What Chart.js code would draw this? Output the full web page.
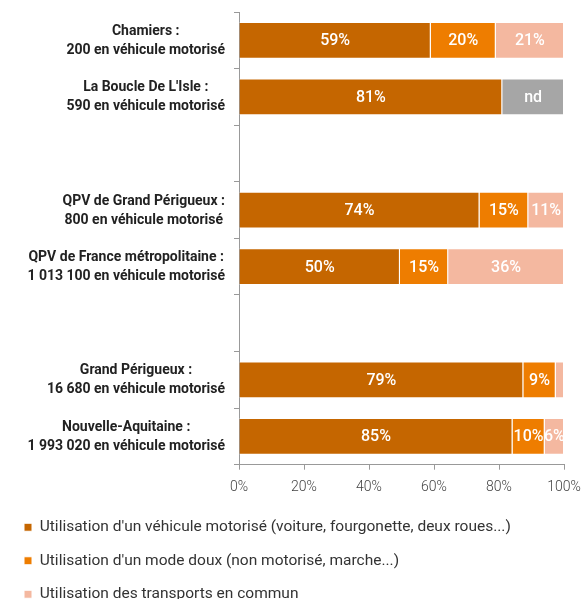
<!DOCTYPE html>
<html>
<head>
<meta charset="utf-8">
<script src="https://cdn.jsdelivr.net/npm/chart.js@4"></script>
<style>
  html, body { margin: 0; padding: 0; background: #fff; }
  #wrap { width: 581px; height: 599px; position: relative; }
</style>
</head>
<body>
<div id="wrap"><canvas id="myChart"></canvas></div>
<script>
'use strict';

const categories = [
  ['Chamiers :', '200 en véhicule motorisé'],
  ['La Boucle De L\'Isle :', '590 en véhicule motorisé'],
  '',
  ['QPV de Grand Périgueux :', '800 en véhicule motorisé'],
  ['QPV de France métropolitaine :', '1 013 100 en véhicule motorisé'],
  '',
  ['Grand Périgueux :', '16 680 en véhicule motorisé'],
  ['Nouvelle-Aquitaine :', '1 993 020 en véhicule motorisé']
];

const seriesNames = [
  'Utilisation d\'un véhicule motorisé (voiture, fourgonette, deux roues...)',
  'Utilisation d\'un mode doux (non motorisé, marche...)',
  'Utilisation des transports en commun',
  'nd'
];

const vehicule = [59, 81, null, 74, 50, null, 79, 85];
const modeDoux = [20, null, null, 15, 15, null, 9, 10];
const transports = [21, null, null, 11, 36, null, 2.3, 6];
const nonDispo = [null, 19, null, null, null, null, null, null];

const xTicks = [0, 20, 40, 60, 80, 100];

const colors = ['#C56600', '#EE7D00', '#F4B8A0', '#A6A6A6'];
const FONT = 'Roboto';

const raw = [vehicule, modeDoux, transports, nonDispo];

// bars are drawn as share of each row total (100% stacked)
function rowTotal(i) {
  let t = 0;
  raw.forEach(s => { if (s[i] != null) t += s[i]; });
  return t;
}

const datasets = raw.map((s, k) => ({
  label: seriesNames[k],
  data: s.map((v, i) => v == null ? null : v / rowTotal(i) * 100),
  rawValues: s,
  backgroundColor: colors[k],
  borderColor: '#fff',
  borderWidth: 1,
  borderSkipped: 'start',
  categoryPercentage: 0.65,
  barPercentage: 1
}));

// white value labels inside segments
const segmentLabels = {
  id: 'segmentLabels',
  afterDatasetsDraw(chart) {
    const ctx = chart.ctx;
    ctx.save();
    ctx.fillStyle = '#fff';
    ctx.font = '500 16px ' + FONT;
    ctx.textAlign = 'center';
    ctx.textBaseline = 'middle';
    chart.data.datasets.forEach((ds, k) => {
      const meta = chart.getDatasetMeta(k);
      meta.data.forEach((bar, i) => {
        const v = ds.rawValues[i];
        if (v == null || v < 4) return;
        const txt = k === 3 ? 'nd' : Math.round(v) + '%';
        const cx = (bar.x + bar.base) / 2;
        ctx.fillText(txt, cx, bar.y + 1);
      });
    });
    ctx.restore();
  }
};

// category labels: block right aligned, lines centered inside block
const categoryLabels = {
  id: 'categoryLabels',
  afterDraw(chart) {
    const ctx = chart.ctx;
    const yScale = chart.scales.y;
    ctx.save();
    ctx.fillStyle = '#222';
    ctx.font = 'bold 14px ' + FONT;
    ctx.textBaseline = 'middle';
    ctx.textAlign = 'center';
    categories.forEach((lab, i) => {
      if (!Array.isArray(lab)) return;
      const w = Math.max(...lab.map(l => ctx.measureText(l).width));
      const right = yScale.right - 14;
      const cx = right - w / 2;
      const cy = yScale.getPixelForTick(i);
      ctx.fillText(lab[0], cx, cy - 9);
      ctx.fillText(lab[1], cx, cy + 10);
    });
    ctx.restore();
  }
};

const ctx = document.getElementById('myChart').getContext('2d');
const chart = new Chart(ctx, {
  type: 'bar',
  data: {
    labels: categories,
    datasets: datasets
  },
  options: {
    indexAxis: 'y',
    responsive: true,
    maintainAspectRatio: false,
    animation: false,
    layout: { padding: { top: 12, left: 6, right: 17, bottom: -13 } },
    scales: {
      x: {
        stacked: true,
        min: 0,
        max: 100,
        afterBuildTicks(scale) {
          scale.ticks = xTicks.map(v => ({ value: v }));
        },
        afterFit(scale) {
          scale.paddingRight = 0;
          scale.paddingLeft = 0;
          scale.height -= 3;
        },
        ticks: {
          callback: v => v + '%',
          color: '#444',
          font: { family: FONT, size: 14, weight: 300 },
          padding: 9,
          maxRotation: 0
        },
        grid: { drawOnChartArea: false, color: '#999', tickLength: 5 },
        border: { color: '#999' }
      },
      y: {
        stacked: true,
        ticks: { display: false },
        grid: { drawOnChartArea: false, offset: true, color: '#999', tickLength: 5 },
        border: { color: '#999' },
        afterFit(scale) { scale.width = 233; }
      }
    },
    plugins: {
      legend: {
        position: 'bottom',
        align: 'start',
        labels: {
          boxWidth: 8,
          boxHeight: 8,
          padding: 18,
          color: '#333',
          font: { family: FONT, size: 15.5 },
          filter: item => item.datasetIndex !== 3
        }
      },
      tooltip: { enabled: false }
    }
  },
  plugins: [segmentLabels, categoryLabels]
});
</script>
</body>
</html>
